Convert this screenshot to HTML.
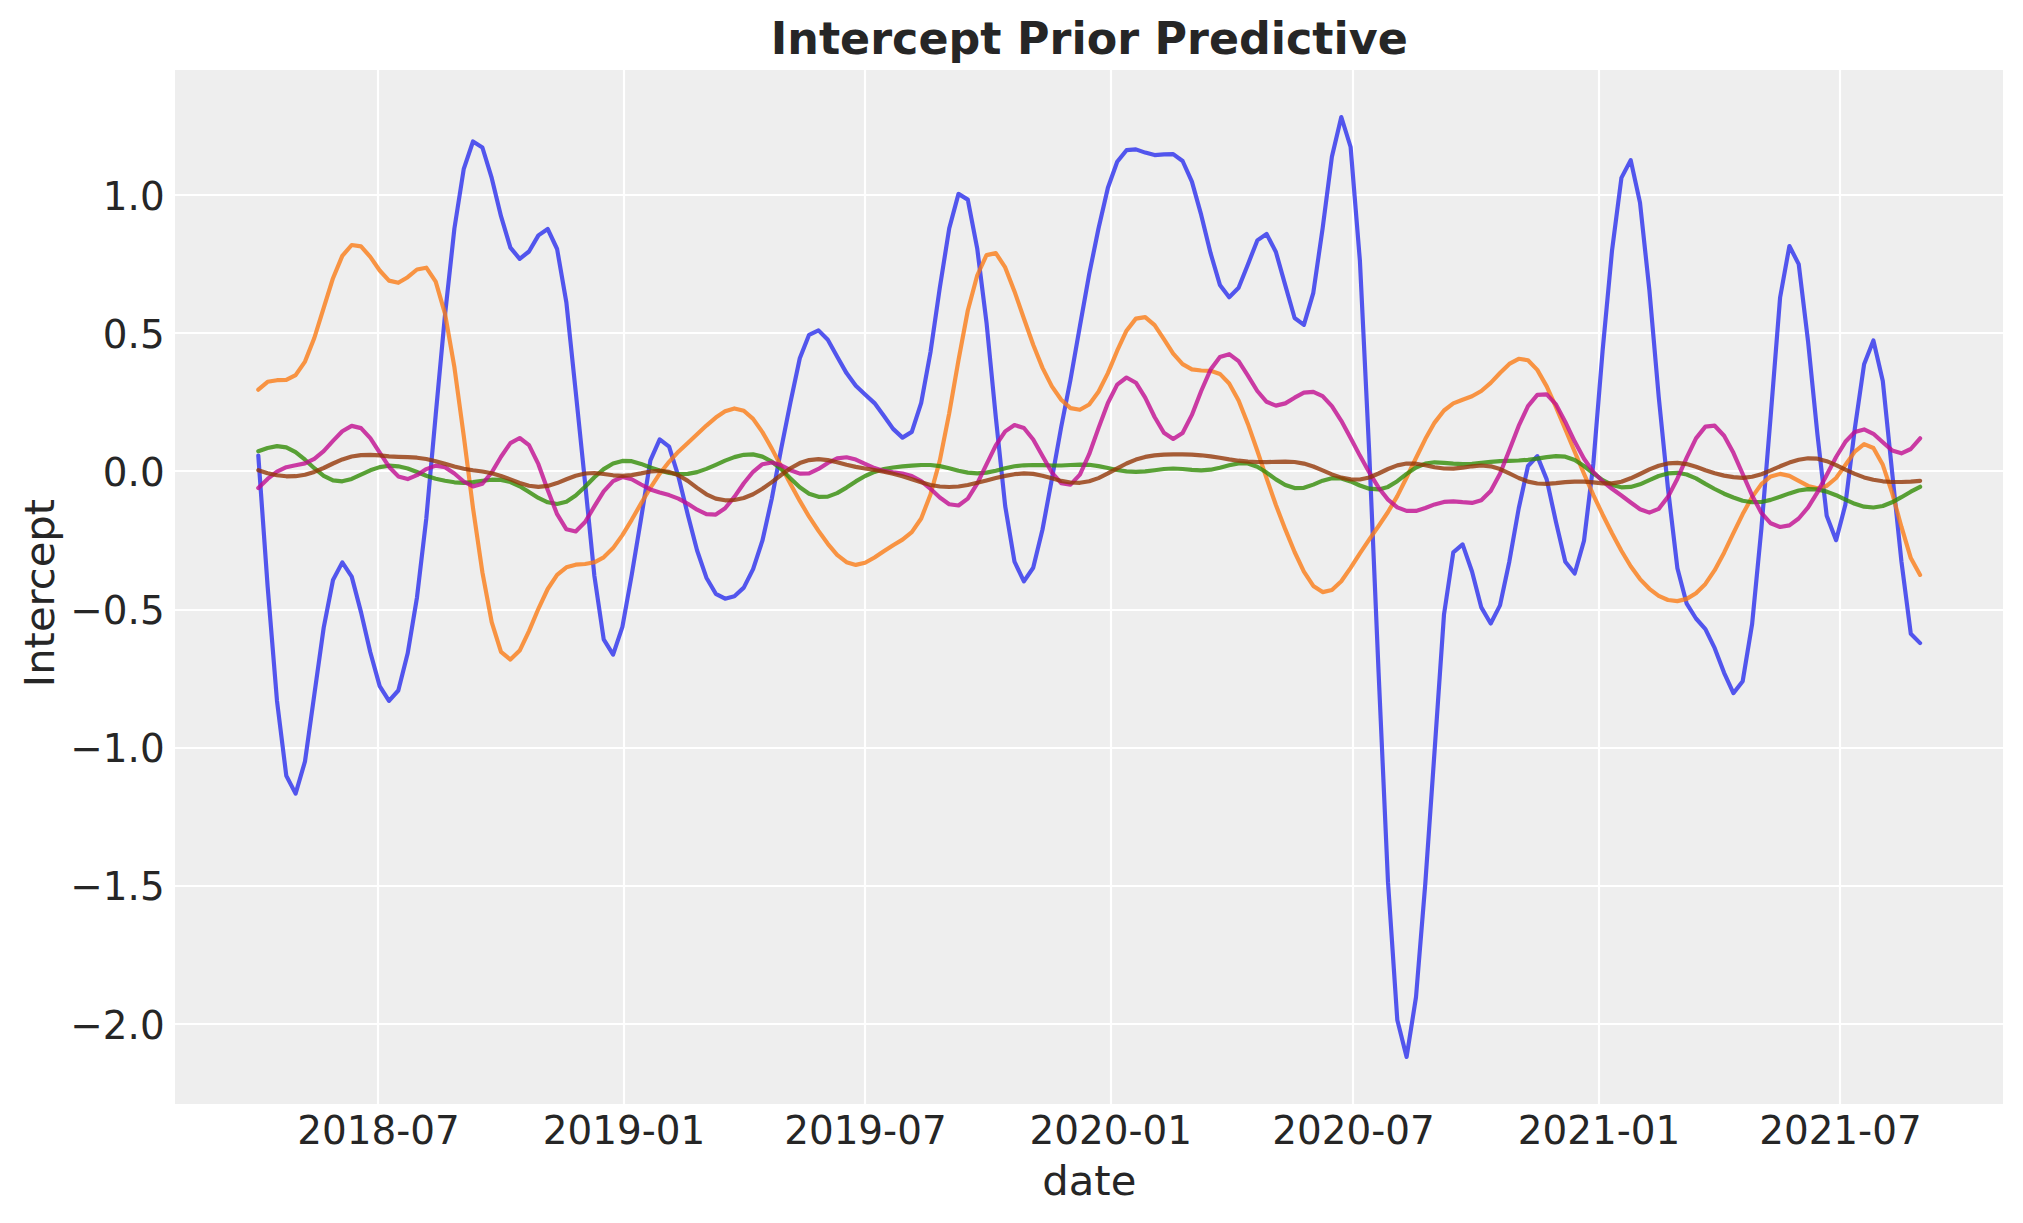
<!DOCTYPE html>
<html lang="en"><head><meta charset="utf-8"><title>Intercept Prior Predictive</title>
<style>html,body{margin:0;padding:0;background:#fff;}svg{display:block;}</style></head>
<body>
<svg width="2023" height="1223" viewBox="0 0 2023 1223">
<rect x="0" y="0" width="2023" height="1223" fill="#ffffff"/>
<rect x="175.0" y="70.0" width="1828.0" height="1034.0" fill="#eeeeee"/>
<g stroke="#ffffff" stroke-width="2.2" fill="none">
<line x1="378.0" y1="70.0" x2="378.0" y2="1104.0"/>
<line x1="624.0" y1="70.0" x2="624.0" y2="1104.0"/>
<line x1="865.0" y1="70.0" x2="865.0" y2="1104.0"/>
<line x1="1111.0" y1="70.0" x2="1111.0" y2="1104.0"/>
<line x1="1353.0" y1="70.0" x2="1353.0" y2="1104.0"/>
<line x1="1599.0" y1="70.0" x2="1599.0" y2="1104.0"/>
<line x1="1840.0" y1="70.0" x2="1840.0" y2="1104.0"/>
<line x1="175.0" y1="195.0" x2="2003.0" y2="195.0"/>
<line x1="175.0" y1="333.0" x2="2003.0" y2="333.0"/>
<line x1="175.0" y1="471.0" x2="2003.0" y2="471.0"/>
<line x1="175.0" y1="610.0" x2="2003.0" y2="610.0"/>
<line x1="175.0" y1="748.0" x2="2003.0" y2="748.0"/>
<line x1="175.0" y1="886.0" x2="2003.0" y2="886.0"/>
<line x1="175.0" y1="1024.0" x2="2003.0" y2="1024.0"/>
</g>
<g fill="none" stroke-width="4.17" stroke-linejoin="round" stroke-linecap="round" stroke-opacity="0.8">
<polyline stroke="#2a2eec" points="258.3,455.5 267.6,586.0 277.0,700.9 286.3,775.8 295.6,793.6 305.0,761.4 314.3,694.7 323.7,627.6 333.0,580.0 342.3,562.4 351.7,576.6 361.0,612.1 370.3,652.3 379.7,686.1 389.0,700.9 398.3,690.5 407.7,653.3 417.0,597.3 426.3,518.4 435.7,415.0 445.0,315.0 454.4,228.5 463.7,169.2 473.0,141.5 482.4,147.5 491.7,177.9 501.0,216.2 510.4,247.6 519.7,258.9 529.0,251.5 538.4,235.4 547.7,229.0 557.1,249.0 566.4,302.7 575.7,391.6 585.1,483.0 594.4,576.0 603.7,639.3 613.1,654.6 622.4,626.9 631.7,575.0 641.1,518.4 650.4,460.3 659.7,439.3 669.1,446.7 678.4,476.4 687.8,514.7 697.1,550.5 706.4,577.7 715.8,593.8 725.1,598.7 734.4,596.3 743.8,587.6 753.1,569.1 762.4,540.7 771.8,498.6 781.1,449.2 790.5,402.1 799.8,358.3 809.1,334.8 818.5,330.4 827.8,339.7 837.1,356.5 846.5,373.1 855.8,385.8 865.1,394.5 874.5,403.1 883.8,415.8 893.1,428.9 902.5,437.6 911.8,431.9 921.2,402.8 930.5,352.1 939.8,287.8 949.2,228.5 958.5,193.9 967.8,199.6 977.2,248.3 986.5,322.4 995.8,417.1 1005.2,506.1 1014.5,561.7 1023.9,581.4 1033.2,567.8 1042.5,529.5 1051.9,478.9 1061.2,427.0 1070.5,379.6 1079.9,326.1 1089.2,274.2 1098.5,228.5 1107.9,187.7 1117.2,161.8 1126.5,150.2 1135.9,149.4 1145.2,152.6 1154.6,155.1 1163.9,154.4 1173.2,154.1 1182.6,161.0 1191.9,181.6 1201.2,214.9 1210.6,253.2 1219.9,284.9 1229.2,297.2 1238.6,287.8 1247.9,264.4 1257.3,240.4 1266.6,234.0 1275.9,252.0 1285.3,285.4 1294.6,318.0 1303.9,324.9 1313.3,292.8 1322.6,228.5 1331.9,156.8 1341.3,117.0 1350.6,147.0 1359.9,260.7 1369.3,454.1 1378.6,672.6 1388.0,882.2 1397.3,1019.9 1406.6,1057.0 1416.0,997.1 1425.3,883.5 1434.6,750.7 1444.0,614.5 1453.3,552.3 1462.6,544.4 1472.0,571.5 1481.3,607.4 1490.7,623.5 1500.0,605.4 1509.3,561.7 1518.7,508.5 1528.0,466.0 1537.3,456.1 1546.7,479.4 1556.0,522.1 1565.3,561.7 1574.7,573.5 1584.0,540.7 1593.3,464.0 1602.7,349.6 1612.0,250.8 1621.4,177.9 1630.7,160.1 1640.0,202.6 1649.4,290.3 1658.7,396.6 1668.0,488.7 1677.4,568.3 1686.7,603.7 1696.0,618.5 1705.4,629.1 1714.7,648.2 1724.1,672.8 1733.4,693.2 1742.7,681.2 1752.1,624.2 1761.4,528.5 1770.7,415.9 1780.1,297.5 1789.4,246.0 1798.7,264.1 1808.1,341.7 1817.4,434.1 1826.7,515.7 1836.1,540.2 1845.4,504.6 1854.8,428.8 1864.1,364.2 1873.4,340.5 1882.8,381.0 1892.1,471.9 1901.4,561.2 1910.8,633.8 1920.1,643.1"/>
<polyline stroke="#fa7c17" points="258.3,389.7 267.6,381.8 277.0,380.2 286.3,379.8 295.6,375.1 305.0,361.6 314.3,338.0 323.7,307.8 333.0,278.2 342.3,255.9 351.7,245.0 361.0,246.4 370.3,256.9 379.7,270.5 389.0,280.6 398.3,282.8 407.7,277.2 417.0,269.5 426.3,267.7 435.7,281.6 445.0,313.7 454.4,367.2 463.7,435.5 473.0,508.1 482.4,572.4 491.7,622.1 501.0,651.9 510.4,659.6 519.7,650.6 529.0,631.1 538.4,608.8 547.7,589.0 557.1,574.9 566.4,567.3 575.7,564.7 585.1,564.0 594.4,562.3 603.7,557.3 613.1,548.1 622.4,535.1 631.7,519.8 641.1,503.4 650.4,487.8 659.7,473.7 669.1,461.8 678.4,451.7 687.8,442.9 697.1,434.3 706.4,425.6 715.8,417.6 725.1,411.3 734.4,408.4 743.8,410.8 753.1,418.9 762.4,432.1 771.8,448.6 781.1,466.3 790.5,484.0 799.8,500.9 809.1,516.7 818.5,530.9 827.8,543.8 837.1,554.8 846.5,562.2 855.8,564.9 865.1,562.8 874.5,557.5 883.8,551.2 893.1,545.2 902.5,539.6 911.8,532.1 921.2,518.5 930.5,494.4 939.8,460.6 949.2,413.3 958.5,360.2 967.8,310.5 977.2,275.5 986.5,255.1 995.8,253.1 1005.2,267.4 1014.5,291.4 1023.9,318.5 1033.2,344.8 1042.5,367.9 1051.9,386.4 1061.2,399.7 1070.5,408.1 1079.9,409.8 1089.2,404.5 1098.5,391.8 1107.9,373.1 1117.2,350.7 1126.5,330.7 1135.9,318.6 1145.2,317.1 1154.6,325.2 1163.9,339.1 1173.2,353.6 1182.6,364.1 1191.9,369.4 1201.2,370.5 1210.6,370.8 1219.9,373.9 1229.2,383.5 1238.6,400.6 1247.9,423.9 1257.3,450.7 1266.6,478.4 1275.9,505.0 1285.3,529.4 1294.6,552.0 1303.9,571.7 1313.3,585.9 1322.6,592.1 1331.9,590.0 1341.3,581.3 1350.6,567.9 1359.9,553.3 1369.3,539.3 1378.6,526.0 1388.0,512.0 1397.3,496.1 1406.6,477.5 1416.0,458.0 1425.3,439.1 1434.6,422.6 1444.0,410.5 1453.3,403.4 1462.6,399.7 1472.0,396.3 1481.3,391.0 1490.7,382.9 1500.0,373.0 1509.3,363.9 1518.7,358.8 1528.0,360.3 1537.3,369.9 1546.7,386.4 1556.0,407.2 1565.3,429.3 1574.7,451.8 1584.0,473.8 1593.3,494.9 1602.7,514.7 1612.0,533.2 1621.4,550.8 1630.7,566.3 1640.0,579.1 1649.4,588.8 1658.7,595.8 1668.0,600.0 1677.4,601.1 1686.7,598.9 1696.0,593.2 1705.4,583.9 1714.7,570.2 1724.1,552.7 1733.4,533.2 1742.7,514.1 1752.1,497.1 1761.4,484.1 1770.7,476.4 1780.1,473.9 1789.4,475.9 1798.7,480.8 1808.1,485.9 1817.4,488.2 1826.7,485.9 1836.1,478.0 1845.4,465.0 1854.8,451.6 1864.1,444.1 1873.4,448.0 1882.8,464.8 1892.1,492.8 1901.4,526.7 1910.8,558.1 1920.1,574.9"/>
<polyline stroke="#328c06" points="258.3,451.2 267.6,448.0 277.0,446.1 286.3,447.4 295.6,452.2 305.0,459.7 314.3,468.2 323.7,475.8 333.0,480.4 342.3,481.3 351.7,478.9 361.0,474.7 370.3,470.3 379.7,467.1 389.0,465.7 398.3,466.3 407.7,468.5 417.0,472.0 426.3,475.8 435.7,478.8 445.0,480.8 454.4,482.3 463.7,482.8 473.0,482.1 482.4,480.7 491.7,479.7 501.0,479.9 510.4,482.0 519.7,486.3 529.0,492.0 538.4,497.9 547.7,502.3 557.1,504.0 566.4,501.7 575.7,495.6 585.1,486.8 594.4,477.2 603.7,469.1 613.1,463.5 622.4,460.9 631.7,461.2 641.1,463.9 650.4,467.5 659.7,470.6 669.1,473.0 678.4,474.1 687.8,473.9 697.1,472.1 706.4,468.9 715.8,464.8 725.1,460.6 734.4,457.1 743.8,454.8 753.1,454.4 762.4,456.6 771.8,461.6 781.1,469.1 790.5,478.4 799.8,487.3 809.1,493.7 818.5,496.8 827.8,496.6 837.1,493.1 846.5,487.6 855.8,481.4 865.1,476.0 874.5,471.9 883.8,469.1 893.1,467.5 902.5,466.4 911.8,465.6 921.2,465.0 930.5,465.0 939.8,466.1 949.2,468.2 958.5,470.7 967.8,472.6 977.2,473.4 986.5,472.6 995.8,470.7 1005.2,468.3 1014.5,466.3 1023.9,465.3 1033.2,465.0 1042.5,465.2 1051.9,465.5 1061.2,465.5 1070.5,465.0 1079.9,464.6 1089.2,464.8 1098.5,466.1 1107.9,468.0 1117.2,470.0 1126.5,471.4 1135.9,471.9 1145.2,471.4 1154.6,470.2 1163.9,469.0 1173.2,468.5 1182.6,469.0 1191.9,469.9 1201.2,470.4 1210.6,469.7 1219.9,467.7 1229.2,465.2 1238.6,463.4 1247.9,463.5 1257.3,466.8 1266.6,472.6 1275.9,479.4 1285.3,485.0 1294.6,488.1 1303.9,487.8 1313.3,484.6 1322.6,480.7 1331.9,478.2 1341.3,478.5 1350.6,481.4 1359.9,485.5 1369.3,488.7 1378.6,489.4 1388.0,486.9 1397.3,481.2 1406.6,473.9 1416.0,467.5 1425.3,463.6 1434.6,462.3 1444.0,462.8 1453.3,463.7 1462.6,464.2 1472.0,463.8 1481.3,462.8 1490.7,461.8 1500.0,461.1 1509.3,460.8 1518.7,460.5 1528.0,459.8 1537.3,458.6 1546.7,457.1 1556.0,456.1 1565.3,456.7 1574.7,460.0 1584.0,466.0 1593.3,473.3 1602.7,480.1 1612.0,484.9 1621.4,487.3 1630.7,486.9 1640.0,484.3 1649.4,480.1 1658.7,476.0 1668.0,473.4 1677.4,472.8 1686.7,474.5 1696.0,478.4 1705.4,483.9 1714.7,489.0 1724.1,493.7 1733.4,497.5 1742.7,500.8 1752.1,502.2 1761.4,502.0 1770.7,499.9 1780.1,496.7 1789.4,493.4 1798.7,490.5 1808.1,489.1 1817.4,489.4 1826.7,491.6 1836.1,495.2 1845.4,499.7 1854.8,503.8 1864.1,506.7 1873.4,507.5 1882.8,506.0 1892.1,502.3 1901.4,497.2 1910.8,491.7 1920.1,486.8"/>
<polyline stroke="#c10c90" points="258.3,488.0 267.6,478.9 277.0,471.6 286.3,467.2 295.6,465.3 305.0,463.4 314.3,458.9 323.7,451.1 333.0,440.9 342.3,431.3 351.7,425.9 361.0,428.1 370.3,438.2 379.7,452.6 389.0,466.7 398.3,476.4 407.7,479.1 417.0,475.2 426.3,469.1 435.7,465.6 445.0,467.2 454.4,473.5 463.7,481.5 473.0,486.4 482.4,483.8 491.7,472.5 501.0,456.7 510.4,443.1 519.7,438.0 529.0,445.2 538.4,464.2 547.7,490.0 557.1,514.2 566.4,529.3 575.7,531.5 585.1,522.0 594.4,506.4 603.7,491.3 613.1,481.1 622.4,477.0 631.7,479.2 641.1,484.5 650.4,489.4 659.7,492.4 669.1,495.1 678.4,498.6 687.8,503.8 697.1,509.7 706.4,514.2 715.8,514.6 725.1,508.3 734.4,496.9 743.8,483.3 753.1,471.8 762.4,464.2 771.8,462.5 781.1,465.3 790.5,470.2 799.8,473.6 809.1,473.3 818.5,468.9 827.8,463.0 837.1,458.4 846.5,457.3 855.8,459.6 865.1,463.9 874.5,468.1 883.8,470.9 893.1,472.4 902.5,473.6 911.8,476.0 921.2,481.1 930.5,488.8 939.8,497.5 949.2,504.2 958.5,505.5 967.8,498.6 977.2,483.7 986.5,464.3 995.8,445.4 1005.2,431.4 1014.5,425.0 1023.9,428.0 1033.2,439.5 1042.5,456.1 1051.9,472.5 1061.2,483.2 1070.5,484.6 1079.9,474.6 1089.2,454.2 1098.5,428.1 1107.9,403.0 1117.2,384.6 1126.5,377.5 1135.9,382.7 1145.2,397.7 1154.6,417.0 1163.9,432.8 1173.2,439.0 1182.6,433.0 1191.9,414.9 1201.2,391.0 1210.6,369.6 1219.9,357.1 1229.2,354.2 1238.6,361.2 1247.9,375.6 1257.3,391.0 1266.6,401.8 1275.9,405.6 1285.3,403.4 1294.6,397.7 1303.9,392.7 1313.3,391.8 1322.6,396.1 1331.9,406.1 1341.3,420.8 1350.6,437.9 1359.9,455.6 1369.3,472.5 1378.6,487.7 1388.0,499.6 1397.3,507.4 1406.6,510.9 1416.0,510.9 1425.3,508.0 1434.6,504.4 1444.0,501.9 1453.3,501.3 1462.6,502.2 1472.0,502.9 1481.3,500.2 1490.7,490.9 1500.0,473.7 1509.3,450.3 1518.7,425.9 1528.0,406.1 1537.3,394.9 1546.7,394.4 1556.0,404.4 1565.3,421.9 1574.7,441.6 1584.0,458.8 1593.3,471.9 1602.7,481.4 1612.0,488.8 1621.4,495.5 1630.7,502.5 1640.0,509.2 1649.4,512.6 1658.7,508.9 1668.0,496.9 1677.4,478.7 1686.7,457.6 1696.0,438.4 1705.4,426.6 1714.7,425.7 1724.1,435.7 1733.4,452.8 1742.7,474.0 1752.1,495.4 1761.4,512.9 1770.7,523.3 1780.1,527.0 1789.4,525.4 1798.7,518.5 1808.1,507.4 1817.4,492.4 1826.7,475.0 1836.1,457.0 1845.4,441.8 1854.8,431.9 1864.1,429.4 1873.4,433.8 1882.8,442.3 1892.1,450.4 1901.4,453.3 1910.8,449.0 1920.1,438.3"/>
<polyline stroke="#933708" points="258.3,470.2 267.6,473.2 277.0,475.2 286.3,476.3 295.6,476.2 305.0,474.7 314.3,471.9 323.7,468.0 333.0,463.5 342.3,459.4 351.7,456.5 361.0,455.1 370.3,454.9 379.7,455.4 389.0,456.3 398.3,456.8 407.7,457.1 417.0,457.7 426.3,459.0 435.7,461.2 445.0,463.8 454.4,466.5 463.7,468.7 473.0,470.2 482.4,471.5 491.7,473.2 501.0,475.9 510.4,479.4 519.7,483.0 529.0,485.8 538.4,486.9 547.7,485.9 557.1,483.1 566.4,479.3 575.7,475.8 585.1,473.5 594.4,473.0 603.7,474.0 613.1,475.3 622.4,475.9 631.7,475.1 641.1,473.4 650.4,471.5 659.7,470.8 669.1,471.9 678.4,475.3 687.8,480.9 697.1,487.9 706.4,494.3 715.8,498.6 725.1,500.3 734.4,500.0 743.8,498.0 753.1,494.2 762.4,488.7 771.8,482.1 781.1,475.0 790.5,468.3 799.8,463.1 809.1,460.1 818.5,459.2 827.8,460.1 837.1,462.3 846.5,464.8 855.8,466.9 865.1,468.5 874.5,470.0 883.8,471.7 893.1,473.7 902.5,476.2 911.8,479.2 921.2,482.3 930.5,485.0 939.8,486.5 949.2,487.0 958.5,486.5 967.8,485.0 977.2,482.8 986.5,480.4 995.8,478.1 1005.2,475.9 1014.5,474.2 1023.9,473.4 1033.2,473.9 1042.5,475.7 1051.9,478.3 1061.2,480.9 1070.5,482.5 1079.9,482.8 1089.2,481.3 1098.5,478.1 1107.9,473.4 1117.2,468.3 1126.5,463.5 1135.9,459.6 1145.2,456.9 1154.6,455.4 1163.9,454.6 1173.2,454.4 1182.6,454.4 1191.9,454.7 1201.2,455.3 1210.6,456.4 1219.9,457.8 1229.2,459.4 1238.6,460.7 1247.9,461.6 1257.3,462.0 1266.6,462.1 1275.9,461.8 1285.3,461.6 1294.6,462.0 1303.9,463.6 1313.3,466.5 1322.6,470.4 1331.9,474.4 1341.3,477.6 1350.6,479.4 1359.9,479.5 1369.3,477.5 1378.6,473.5 1388.0,469.0 1397.3,465.4 1406.6,463.5 1416.0,463.7 1425.3,465.2 1434.6,467.2 1444.0,468.5 1453.3,468.6 1462.6,467.7 1472.0,466.3 1481.3,465.5 1490.7,466.3 1500.0,469.1 1509.3,473.4 1518.7,478.0 1528.0,481.6 1537.3,483.5 1546.7,483.8 1556.0,483.1 1565.3,482.1 1574.7,481.6 1584.0,481.6 1593.3,482.4 1602.7,483.3 1612.0,483.4 1621.4,481.8 1630.7,478.3 1640.0,474.0 1649.4,469.4 1658.7,465.7 1668.0,463.4 1677.4,462.9 1686.7,464.1 1696.0,466.8 1705.4,470.3 1714.7,473.3 1724.1,475.6 1733.4,477.1 1742.7,477.9 1752.1,476.8 1761.4,474.2 1770.7,470.4 1780.1,466.3 1789.4,462.6 1798.7,459.8 1808.1,458.3 1817.4,458.7 1826.7,461.2 1836.1,465.2 1845.4,469.7 1854.8,473.9 1864.1,477.4 1873.4,479.8 1882.8,481.3 1892.1,482.0 1901.4,482.0 1910.8,481.6 1920.1,480.8"/>
</g>
<g font-family="'DejaVu Sans','Liberation Sans',sans-serif" fill="#262626" font-size="38.9">
<text x="378.5" y="1144.1" text-anchor="middle">2018-07</text>
<text x="624.0" y="1144.1" text-anchor="middle">2019-01</text>
<text x="865.4" y="1144.1" text-anchor="middle">2019-07</text>
<text x="1110.8" y="1144.1" text-anchor="middle">2020-01</text>
<text x="1353.6" y="1144.1" text-anchor="middle">2020-07</text>
<text x="1599.0" y="1144.1" text-anchor="middle">2021-01</text>
<text x="1840.4" y="1144.1" text-anchor="middle">2021-07</text>
<text x="164.7" y="209.6" text-anchor="end">1.0</text>
<text x="164.7" y="347.8" text-anchor="end">0.5</text>
<text x="164.7" y="485.9" text-anchor="end">0.0</text>
<text x="164.7" y="624.1" text-anchor="end">−0.5</text>
<text x="164.7" y="762.3" text-anchor="end">−1.0</text>
<text x="164.7" y="900.4" text-anchor="end">−1.5</text>
<text x="164.7" y="1038.6" text-anchor="end">−2.0</text>
<text x="1089.3" y="1194.9" text-anchor="middle" font-size="41.7">date</text>
<text transform="translate(53.9,593) rotate(-90)" text-anchor="middle" font-size="41.7">Intercept</text>
</g>
<text x="1089.3" y="54.3" text-anchor="middle" font-family="'DejaVu Sans','Liberation Sans',sans-serif" font-weight="bold" font-size="44.4" fill="#262626">Intercept Prior Predictive</text>
</svg>
</body></html>
